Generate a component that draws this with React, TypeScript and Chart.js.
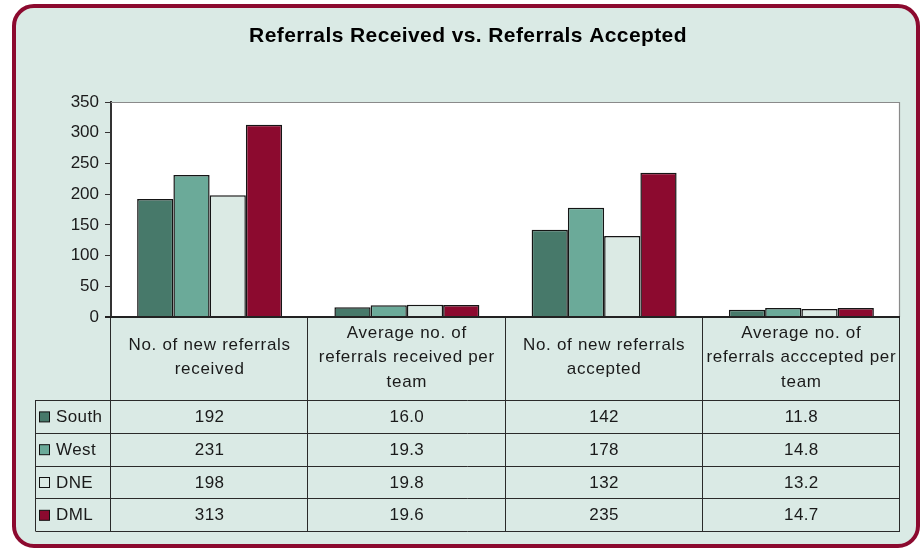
import { useEffect, useRef } from "react";
import { Chart, registerables } from "chart.js";

Chart.register(...registerables);

const categories: string[][] = [
  ["No. of new referrals", "received"],
  ["Average no. of", "referrals received per", "team"],
  ["No. of new referrals", "accepted"],
  ["Average no. of", "referrals acccepted per", "team"],
];
const seriesNames = ["South", "West", "DNE", "DML"];
const south = [192, 16.0, 142, 11.8];
const west = [231, 19.3, 178, 14.8];
const dne = [198, 19.8, 132, 13.2];
const dml = [313, 19.6, 235, 14.7];
const decimals = [0, 1, 0, 1];
const seriesColors = ["#47796A", "#6BAA99", "#DBEAE4", "#8C0A2F"];
const titleText = "Referrals Received vs. Referrals Accepted";
const yMin = 0;
const yMax = 350;
const yStep = 50;

const FONT = '"Liberation Sans", Arial, sans-serif';
const TEXT = "#1a1a1a";

const tablePlugin = {
  id: "dataTable",
  beforeDraw(chart: any) {
    const { ctx, chartArea: ca } = chart;
    ctx.save();
    ctx.fillStyle = "#ffffff";
    ctx.fillRect(ca.left, ca.top, ca.right - ca.left, ca.bottom - ca.top);
    ctx.restore();
  },
  afterDraw(chart: any) {
    const { ctx, chartArea: ca } = chart;
    const datasets = chart.data.datasets;
    const n = categories.length;
    const colW = (ca.right - ca.left) / n;
    const bounds = Array.from({ length: n + 1 }, (_, i) => ca.left + i * colW);
    const headTop = ca.bottom;
    const headBottom = 400;
    const rowH = 32.8;
    const legendLeft = 35.5;
    const tableBottom = headBottom + rowH * datasets.length;

    ctx.save();
    // title
    ctx.fillStyle = "#000";
    ctx.font = `bold 21px ${FONT}`;
    (ctx as any).letterSpacing = "0.4px";
    ctx.textAlign = "center";
    ctx.textBaseline = "middle";
    ctx.fillText(titleText, 468, 36);

    // plot frame top/right
    ctx.strokeStyle = "#8a8a8a";
    ctx.lineWidth = 1.2;
    ctx.beginPath();
    ctx.moveTo(ca.left, ca.top + 0.5);
    ctx.lineTo(ca.right - 0.5, ca.top + 0.5);
    ctx.lineTo(ca.right - 0.5, ca.bottom);
    ctx.stroke();

    // table lines
    ctx.strokeStyle = "#2a2a2a";
    ctx.lineWidth = 1;
    ctx.beginPath();
    for (let i = 0; i <= n; i++) {
      const x = Math.round(bounds[i]) - 0.5;
      ctx.moveTo(x, headTop);
      ctx.lineTo(x, tableBottom);
    }
    ctx.moveTo(legendLeft, headBottom);
    ctx.lineTo(legendLeft, tableBottom);
    for (let r = 0; r <= datasets.length; r++) {
      const y = Math.round(headBottom + r * rowH) + 0.5;
      ctx.moveTo(legendLeft, y);
      ctx.lineTo(ca.right, y);
    }
    ctx.stroke();

    // axis base line
    ctx.strokeStyle = "#222";
    ctx.lineWidth = 2;
    ctx.beginPath();
    ctx.moveTo(ca.left - 6, ca.bottom);
    ctx.lineTo(ca.right, ca.bottom);
    ctx.stroke();

    // header labels
    ctx.fillStyle = TEXT;
    ctx.font = `17px ${FONT}`;
    (ctx as any).letterSpacing = "0.7px";
    const lh = 24.5;
    const headMid = (headTop + headBottom) / 2 - 1;
    categories.forEach((lines, i) => {
      const cx = (bounds[i] + bounds[i + 1]) / 2;
      const y0 = headMid - ((lines.length - 1) * lh) / 2;
      lines.forEach((ln, j) => ctx.fillText(ln, cx, y0 + j * lh));
    });

    // rows
    (ctx as any).letterSpacing = "0.4px";
    datasets.forEach((ds: any, r: number) => {
      const cy = headBottom + r * rowH + rowH / 2 + 1;
      ctx.textAlign = "center";
      ds.data.forEach((v: number, i: number) => {
        const cx = (bounds[i] + bounds[i + 1]) / 2;
        ctx.fillText(v.toFixed(decimals[i]), cx, cy);
      });
      // legend
      ctx.fillStyle = ds.backgroundColor;
      ctx.fillRect(39.5, cy - 5.5, 10, 10);
      ctx.strokeStyle = "#111";
      ctx.lineWidth = 1;
      ctx.strokeRect(39.5, cy - 5.5, 10, 10);
      ctx.fillStyle = TEXT;
      ctx.textAlign = "left";
      ctx.fillText(ds.label, 56, cy);
    });
    ctx.restore();
  },
};

export default function App() {
  const ref = useRef<HTMLCanvasElement>(null);
  useEffect(() => {
    const seriesData = [south, west, dne, dml];
    const chart = new Chart(ref.current!, {
      type: "bar",
      data: {
        labels: categories.map((c) => c.join(" ")),
        datasets: seriesNames.map((name, i) => ({
          label: name,
          data: seriesData[i],
          backgroundColor: seriesColors[i],
          borderColor: "#151515",
          borderWidth: 1.5,
          borderSkipped: "bottom",
          barPercentage: 1,
          categoryPercentage: 0.735,
        })),
      },
      options: {
        responsive: false,
        animation: false,
        devicePixelRatio: 1,
        layout: { padding: { top: 102, right: 23, bottom: 233, left: 0 } },
        plugins: {
          legend: { display: false },
          title: { display: false },
          tooltip: { enabled: false },
        },
        scales: {
          x: { display: false },
          y: {
            min: yMin,
            max: yMax,
            ticks: {
              stepSize: yStep,
              color: TEXT,
              font: { family: FONT, size: 17 },
              padding: 6,
            },
            grid: {
              drawOnChartArea: false,
              drawTicks: true,
              tickLength: 6,
              color: "#333",
            },
            border: { display: true, color: "#333", width: 2 },
            afterFit: (s: any) => {
              s.width = 111;
            },
          },
        },
      },
      plugins: [tablePlugin],
    });
    return () => chart.destroy();
  }, []);

  return (
    <div style={{ position: "fixed", left: 0, top: 0, width: 923, height: 550, background: "#ffffff" }}>
      <div
        style={{
          position: "absolute",
          left: 12,
          top: 4,
          width: 908,
          height: 544,
          boxSizing: "border-box",
          border: "4px solid #8C0A2F",
          borderRadius: 22,
          background: "#DAEAE5",
        }}
      />
      <canvas ref={ref} width={923} height={550} style={{ position: "absolute", left: 0, top: 0 }} />
    </div>
  );
}
